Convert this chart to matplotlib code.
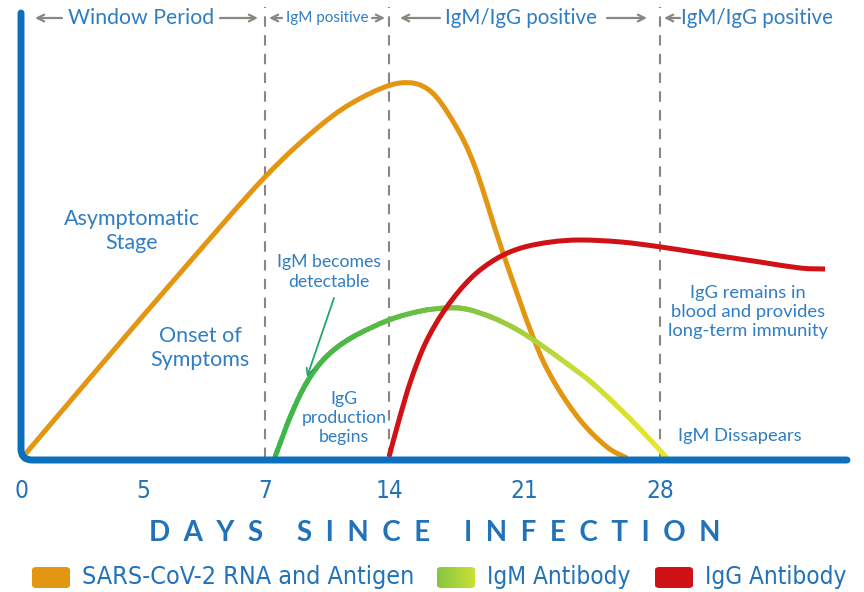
import numpy as np
import matplotlib
matplotlib.use("Agg")
import matplotlib.pyplot as plt
from matplotlib.collections import LineCollection
from matplotlib.colors import LinearSegmentedColormap
from matplotlib.patches import FancyBboxPatch, PathPatch
from matplotlib.path import Path

# ---------- data (x in chart position units, y in relative level) ----------

tick_pos = [1, 122, 244, 368, 503, 639]
tick_labels = ["0", "5", "7", "14", "21", "28"]
phase_lines = [244, 368, 639]

antigen_x = [1, 80, 160, 243, 300, 340, 379, 408, 433, 454, 481, 512, 532, 559, 586, 606]
antigen_y = [2, 95, 188, 282, 335, 362, 377, 370, 337, 293, 210, 123, 80, 40, 13, 2]

igm_x = [254, 270, 286, 305, 330, 368, 400, 425, 445, 470, 495, 520, 545, 570, 595, 620, 646]
igm_y = [3, 45, 78, 103, 122, 140, 149, 152, 151, 143, 131, 115, 97, 78, 55, 30, 2]

igg_x = [368, 378, 390, 405, 425, 450, 475, 500, 530, 560, 600, 640, 692, 739, 779, 804]
igg_y = [3, 40, 80, 118, 152, 182, 201, 212, 218, 220, 218, 213, 205, 198, 192, 191]

series_names = ["SARS-CoV-2 RNA and Antigen", "IgM Antibody", "IgG Antibody"]

# ---------- style ----------

BLUE_AXIS = "#0a6fbd"
TEXT_BLUE = "#2f7dc3"
TICK_BLUE = "#2172b8"
GRAY = "#8a8680"
ORANGE = "#e39612"
RED = "#d01116"
IGM_COLORS = ["#3db54a", "#55b947", "#86c540", "#c3da37", "#ece72b"]

MAIN_FONT = ["Lato", "DejaVu Sans"]
NARROW = dict(family="DejaVu Sans", fontstretch="condensed")

W, H = 864, 592


def smooth_path(x, y):
    """Catmull-Rom through the read points, as a bezier Path."""
    p = np.column_stack([x, y]).astype(float)
    verts, codes = [p[0]], [Path.MOVETO]
    for i in range(len(p) - 1):
        p0 = p[i - 1] if i > 0 else p[i]
        p3 = p[i + 2] if i + 2 < len(p) else p[i + 1]
        c1 = p[i] + (p[i + 1] - p0) / 6
        c2 = p[i + 1] - (p3 - p[i]) / 6
        verts += [c1, c2, p[i + 1]]
        codes += [Path.CURVE4] * 3
    return Path(verts, codes)


fig = plt.figure(figsize=(W / 100, H / 100), dpi=100)
ax = fig.add_axes([21 / W, (H - 460) / H, 828 / W, 460 / H])
ax.set_xlim(0, 828)
ax.set_ylim(0, 460)
for s in ax.spines.values():
    s.set_visible(False)
ax.set_yticks([])

# phase separators
for xv in phase_lines:
    ax.plot([xv, xv], [2, 453], color=GRAY, lw=1.5, dashes=(5, 4), zorder=1)

# antigen curve
ax.add_patch(PathPatch(smooth_path(antigen_x, antigen_y), fill=False, edgecolor=ORANGE,
                       lw=3.6, capstyle="butt", joinstyle="round", zorder=3))

# IgM curve with green->yellow gradient
flat = smooth_path(igm_x, igm_y).to_polygons(closed_only=False)[0]
px, py = [flat[0, 0]], [flat[0, 1]]
for a, b in zip(flat[:-1], flat[1:]):
    t = np.linspace(0, 1, 5)[1:]
    px.extend(a[0] + (b[0] - a[0]) * t)
    py.extend(a[1] + (b[1] - a[1]) * t)
px, py = np.asarray(px), np.asarray(py)
pts = np.column_stack([px, py]).reshape(-1, 1, 2)
segs = np.concatenate([pts[:-1], pts[1:]], axis=1)
cmap = LinearSegmentedColormap.from_list("igm", IGM_COLORS)
lc = LineCollection(segs, cmap=cmap, linewidth=3.6, capstyle="round", zorder=3)
lc.set_array((px[:-1] - min(igm_x)) / (max(igm_x) - min(igm_x)))
lc.set_clim(0, 1)
ax.add_collection(lc)

# IgG curve
ax.add_patch(PathPatch(smooth_path(igg_x, igg_y), fill=False, edgecolor=RED,
                       lw=3.6, capstyle="butt", joinstyle="round", zorder=4))

# axis lines with rounded corner
verts = [(0, 447), (0, 11), (0, 0), (11, 0), (826, 0)]
codes = [Path.MOVETO, Path.LINETO, Path.CURVE3, Path.CURVE3, Path.LINETO]
ax.add_patch(PathPatch(Path(verts, codes), fill=False, edgecolor=BLUE_AXIS, lw=5,
                       capstyle="round", joinstyle="round", clip_on=False, zorder=5))

# ticks and axis title
ax.set_xticks(tick_pos, tick_labels)
ax.tick_params(axis="x", length=0, pad=14, labelsize=17.5, labelcolor=TICK_BLUE)
for lab in ax.get_xticklabels():
    lab.set_family(NARROW["family"])
    lab.set_fontstretch(NARROW["fontstretch"])
ax.set_xlabel("D  A  Y  S     S  I  N  C  E     I  N  F  E  C  T  I  O  N",
              fontsize=20, fontweight="bold", color=TICK_BLUE, family=MAIN_FONT,
              labelpad=12)


# phase header
def harrow(x0, x1, y=442):
    ax.annotate("", xy=(x1, y), xytext=(x0, y),
                arrowprops=dict(arrowstyle="->", color=GRAY, lw=1.6,
                                shrinkA=0, shrinkB=0, mutation_scale=12),
                annotation_clip=False)


header = [("Window Period", 120, 15.3, [(41, 14), (199, 237)]),
          ("IgM positive", 306, 11, [(261, 248), (351, 364)]),
          ("IgM/IgG positive", 500, 14.8, [(419, 379), (586, 626)]),
          ("IgM/IgG positive", 736, 14.8, [(659, 643)])]
for txt, xc, fs, arrows in header:
    ax.text(xc, 442, txt, ha="center", va="center", fontsize=fs, color=TEXT_BLUE,
            family=MAIN_FONT)
    for a, b in arrows:
        harrow(a, b)

# annotations
notes = [("Asymptomatic\nStage", 111, 229, 15.5),
         ("Onset of\nSymptoms", 179, 112, 15.5),
         ("IgM becomes\ndetectable", 308, 188, 12.7),
         ("IgG\nproduction\nbegins", 323, 42, 12.7),
         ("IgG remains in\nblood and provides\nlong-term immunity", 727, 148, 13.2),
         ("IgM Dissapears", 719, 24, 13.2)]
for txt, xc, yc, fs in notes:
    ax.text(xc, yc, txt, ha="center", va="center", fontsize=fs, color=TEXT_BLUE,
            family=MAIN_FONT, linespacing=1.25)

ax.annotate("", xy=(286, 83), xytext=(313, 162),
            arrowprops=dict(arrowstyle="->", color="#1fa86a", lw=1.3,
                            shrinkA=0, shrinkB=0, mutation_scale=12))


# legend (drawn by hand in figure pixels)
def fig_box(x0, y0, w, h):
    return [x0 / W, 1 - (y0 + h) / H, w / W, h / H]


sw_y, sw_h, sw_w = 567, 21, 38
swatches = [(32, ORANGE), (437, None), (655, RED)]
label_x = [82, 487, 705]
label_fs = [18, 17.5, 17.5]
for (sx, col), name, lx, fs in zip(swatches, series_names, label_x, label_fs):
    if col is not None:
        box = FancyBboxPatch((sx / W, 1 - (sw_y + sw_h) / H), sw_w / W, sw_h / H,
                             boxstyle="round,pad=0,rounding_size=0.005",
                             transform=fig.transFigure, facecolor=col, edgecolor="none")
        fig.patches.append(box)
    else:
        gax = fig.add_axes(fig_box(sx, sw_y, sw_w, sw_h))
        gax.axis("off")
        grad = LinearSegmentedColormap.from_list("sw", ["#86c540", "#cbe036"])
        im = gax.imshow(np.linspace(0, 1, 64)[None, :], cmap=grad, aspect="auto",
                        extent=(0, 1, 0, 1))
        clip = FancyBboxPatch((0, 0), 1, 1, boxstyle="round,pad=0,rounding_size=0.12",
                              transform=gax.transAxes, facecolor="none", edgecolor="none")
        gax.add_patch(clip)
        im.set_clip_path(clip)
    fig.text(lx / W, 1 - 577 / H, name, ha="left", va="center", fontsize=fs,
             color=TICK_BLUE, **NARROW)

fig.savefig("out.png", dpi=100)
